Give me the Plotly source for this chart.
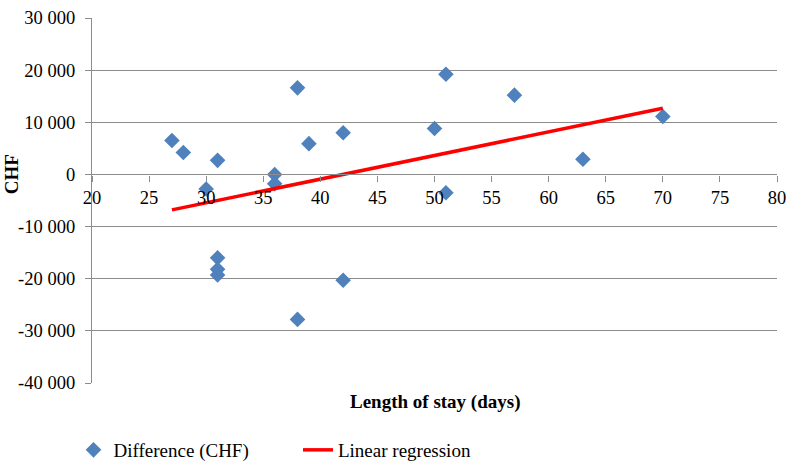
import plotly.graph_objects as go

# Data
stay_days = [27, 28, 30, 31, 31, 31, 31, 36, 36, 38, 38, 39, 42, 42, 50, 51, 51, 57, 63, 70]
diff_chf = [6500, 4200, -2800, 2700, -16000, -18200, -19300, 0, -1800, 16600, -27800,
            5900, 8000, -20300, 8800, 19200, -3500, 15200, 2900, 11100]
reg_x = [27, 70]
reg_y = [-6800, 12700]

y_tickvals = [30000, 20000, 10000, 0, -10000, -20000, -30000, -40000]
y_ticktext = ["30 000", "20 000", "10 000", "0", "-10 000", "-20 000", "-30 000", "-40 000"]
x_tickvals = [20, 25, 30, 35, 40, 45, 50, 55, 60, 65, 70, 75, 80]

YMIN, YMAX = -40000, 30000
FONT = "Liberation Serif"
GRID = "#8c8c8c"

fig = go.Figure()
fig.add_trace(go.Scatter(
    x=stay_days, y=diff_chf, mode="markers", name="Difference (CHF)",
    marker=dict(symbol="diamond", size=12, color="#4F81BD", line=dict(width=0)),
    legend="legend",
))
fig.add_trace(go.Scatter(
    x=reg_x, y=reg_y, mode="lines", name="Linear regression",
    line=dict(color="#FF0000", width=3.5),
    legend="legend2",
))

leg_common = dict(orientation="h", y=1 - 450 / 467, yref="container",
                  xanchor="left", yanchor="middle",
                  font=dict(family=FONT, size=19), itemwidth=30,
                  bgcolor="rgba(0,0,0,0)")

fig.update_layout(
    width=794, height=467,
    margin=dict(l=92, r=17, t=18, b=84),
    paper_bgcolor="white", plot_bgcolor="white",
    font=dict(family=FONT, size=19, color="black"),
    showlegend=True,
    legend=dict(x=-0.027, **leg_common),
    legend2=dict(x=0.3007, **leg_common),
    xaxis=dict(
        range=[20, 80], tickvals=x_tickvals, showgrid=False, zeroline=False,
        showline=True, linecolor=GRID, linewidth=1.3,
        ticks="outside", ticklen=6, tickcolor=GRID,
        anchor="free", position=(0 - YMIN) / (YMAX - YMIN),
        tickfont=dict(family=FONT, size=18.5), automargin=False,
    ),
    yaxis=dict(
        range=[YMIN, YMAX], tickvals=y_tickvals, ticktext=y_ticktext,
        showgrid=True, gridcolor=GRID, gridwidth=1.3, zeroline=False,
        showline=True, linecolor=GRID, linewidth=1.3,
        ticks="outside", ticklen=6, tickcolor=GRID, ticklabelstandoff=6,
        tickfont=dict(family=FONT, size=18.5), automargin=False,
    ),
    annotations=[
        dict(text="<b>CHF</b>", xref="paper", yref="paper", x=-0.117, y=(0 - YMIN) / (YMAX - YMIN),
             xanchor="center", yanchor="middle", textangle=-90, showarrow=False,
             font=dict(family=FONT, size=19)),
        dict(text="<b>Length of stay (days)</b>", xref="paper", yref="paper", x=0.5, y=-0.016,
             xanchor="center", yanchor="top", showarrow=False,
             font=dict(family=FONT, size=19)),
    ],
)

fig.write_html("out.html", config={"displayModeBar": False},
               post_script="document.body.style.margin='0';document.body.style.overflow='hidden';")
